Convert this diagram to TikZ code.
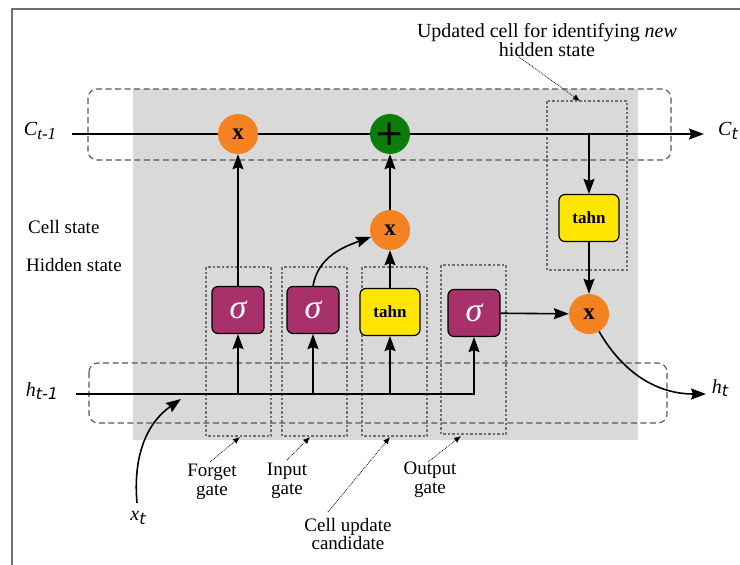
\documentclass[tikz,border=0pt]{standalone}
\usepackage{fontspec}
\setmainfont{Liberation Serif}
\newfontfamily\sansf{DejaVu Sans}
\newfontfamily\sansl{DejaVu Sans ExtraLight}
\usetikzlibrary{arrows.meta}
\definecolor{bggray}{HTML}{D9D9D9}
\definecolor{dgray}{HTML}{555555}
\definecolor{fgray}{HTML}{707070}
\definecolor{orng}{HTML}{F58220}
\definecolor{grn}{HTML}{0B7D0B}
\definecolor{purp}{HTML}{A8306B}
\definecolor{yel}{HTML}{FFE600}
\begin{document}
\begin{tikzpicture}[x=1pt,y=-1pt,
 flow/.style={line width=1.6pt, -{Stealth[length=15pt,width=11pt,inset=2pt]}},
 plain/.style={line width=1.6pt},
 opnode/.style={circle, minimum size=40pt, inner sep=0pt, font=\fontsize{23}{23}\selectfont\bfseries},
 sigbox/.style={draw, line width=1.2pt, rounded corners=6pt, fill=purp, minimum width=52pt, minimum height=47pt, inner sep=0pt, text=white, font=\fontsize{34}{34}\selectfont\itshape},
 tanhbox/.style={draw, line width=1.2pt, rounded corners=6pt, fill=yel, minimum width=60pt, minimum height=47pt, inner sep=0pt, font=\fontsize{17}{17}\selectfont\bfseries},
 groupbox/.style={draw=dgray, line width=1.1pt, dash pattern=on 6pt off 3.5pt, rounded corners=9pt},
 gatebox/.style={draw=fgray, line width=1.2pt, dash pattern=on 2.5pt off 2pt},
 note/.style={densely dotted, line width=0.8pt, -{Latex[length=7pt,width=6pt]}},
 lbl/.style={font=\fontsize{19}{18.5}\selectfont, align=center, inner sep=0pt}
]
\useasboundingbox (0,0) rectangle (740,565);
% frame
\draw[fgray, line width=1.5pt] (12,565) -- (12,9) -- (740,9);
% background
\fill[bggray] (133,89) rectangle (638,440);
% group boxes
\draw[groupbox] (88,89) rectangle (671,160);
\draw[groupbox] (89,363) rectangle (667,423);
\draw[gatebox] (206,267) rectangle (271,436);
\draw[gatebox] (282,267) rectangle (347,436);
\draw[gatebox] (362,267) rectangle (427,436);
\draw[gatebox] (441,265) rectangle (506,434);
\draw[gatebox] (547,101) rectangle (627,270);
% nodes
\node[opnode, fill=orng] (x1) at (238,134) {x};
\node[opnode, fill=grn, font=\fontsize{36}{36}\sansf] (plus) at (390,134) {+};
\node[opnode, fill=orng] (x2) at (390,230) {x};
\node[opnode, fill=orng] (x3) at (589,314) {x};
\node[sigbox] (s1) at (238,310) {σ};
\node[sigbox] (s2) at (313,310) {σ};
\node[tanhbox] (tn) at (390,312) {tahn};
\node[sigbox] (s4) at (474,313) {σ};
\node[tanhbox] (tn2) at (589,218) {tahn};
% coordinates
\coordinate (cs) at (72,134);
\coordinate (ce) at (704,134);
\coordinate (cb) at (589,134);
\coordinate (hs) at (76,394);
\coordinate (he) at (474,394);
\coordinate (h1) at (238,394);
\coordinate (h2) at (313,394);
\coordinate (h3) at (390,394);
\coordinate (xs) at (137,503);
\coordinate (xe) at (181,399);
\coordinate (ht) at (706,394);
% cell state line
\draw[plain] (cs) -- (x1);
\draw[plain] (x1) -- (plus);
\draw[flow] (plus) -- (ce);
\draw[flow] (cb) -- (tn2);
\draw[flow] (tn2) -- (x3);
% gates
\draw[flow] (s1) -- (x1);
\draw[flow] (s2.north) to[out=80,in=200] (x2);
\draw[flow] (tn) -- (x2);
\draw[flow] (x2) -- (plus);
\draw[flow] (s4) -- (x3);
% hidden line
\draw[flow] (hs) -- (he) -- (s4);
\draw[flow] (h1) -- (s1);
\draw[flow] (h2) -- (s2);
\draw[flow] (h3) -- (tn);
% input
\draw[flow] (xs) to[out=95,in=215] (xe);
\draw[flow] (x3) to[out=-60,in=180] (ht);
% labels
\node[lbl, anchor=west] (lcs) at (28,227) {Cell state};
\node[lbl, anchor=west] (lhs) at (26,265) {Hidden state};
\node[lbl] (lfg) at (212,482) {Forget\\gate};
\node[lbl] (lig) at (287,481) {Input\\gate};
\node[lbl] (lcu) at (348,534) {Cell update\\candidate};
\node[lbl] (log) at (430,480) {Output\\gate};
\node[lbl, font=\fontsize{20}{18.5}\selectfont] (lup) at (547,40) {Updated cell for identifying \textit{new}\\hidden state};
\node[lbl, font=\fontsize{20}{20}\selectfont] (lc0) at (40,131) {\textit{C}\raisebox{-0.4ex}{\fontsize{17}{17}\selectfont\textit{t-1}}};
\node[lbl, font=\fontsize{20}{20}\selectfont] (lc1) at (728,131) {\textit{C}\raisebox{-0.4ex}{\fontsize{16}{16}\sansf\itshape t}};
\node[lbl, font=\fontsize{20}{20}\selectfont] (lh0) at (42,391) {\textit{h}\raisebox{-0.4ex}{\fontsize{16}{16}\sansf\itshape t-1}};
\node[lbl, font=\fontsize{20}{20}\selectfont] (lh1) at (720,388) {\textit{h}\raisebox{-0.4ex}{\fontsize{16}{16}\sansf\itshape t}};
\node[lbl, font=\fontsize{20}{20}\selectfont] (lx) at (138,518) {\textit{x}\raisebox{-0.4ex}{\fontsize{16}{16}\sansf\itshape t}};
% annotation arrows
\coordinate (n1s) at (210,462); \coordinate (n1e) at (240,437);
\coordinate (n2s) at (287,460); \coordinate (n2e) at (310,437);
\coordinate (n3s) at (328,512); \coordinate (n3e) at (390,437);
\coordinate (n4s) at (428,462); \coordinate (n4e) at (461,436);
\coordinate (n5s) at (519,57); \coordinate (n5e) at (580,101);
\draw[note] (n1s) -- (n1e);
\draw[note] (n2s) -- (n2e);
\draw[note] (n3s) -- (n3e);
\draw[note] (n4s) -- (n4e);
\draw[note] (n5s) -- (n5e);
\end{tikzpicture}
\end{document}
